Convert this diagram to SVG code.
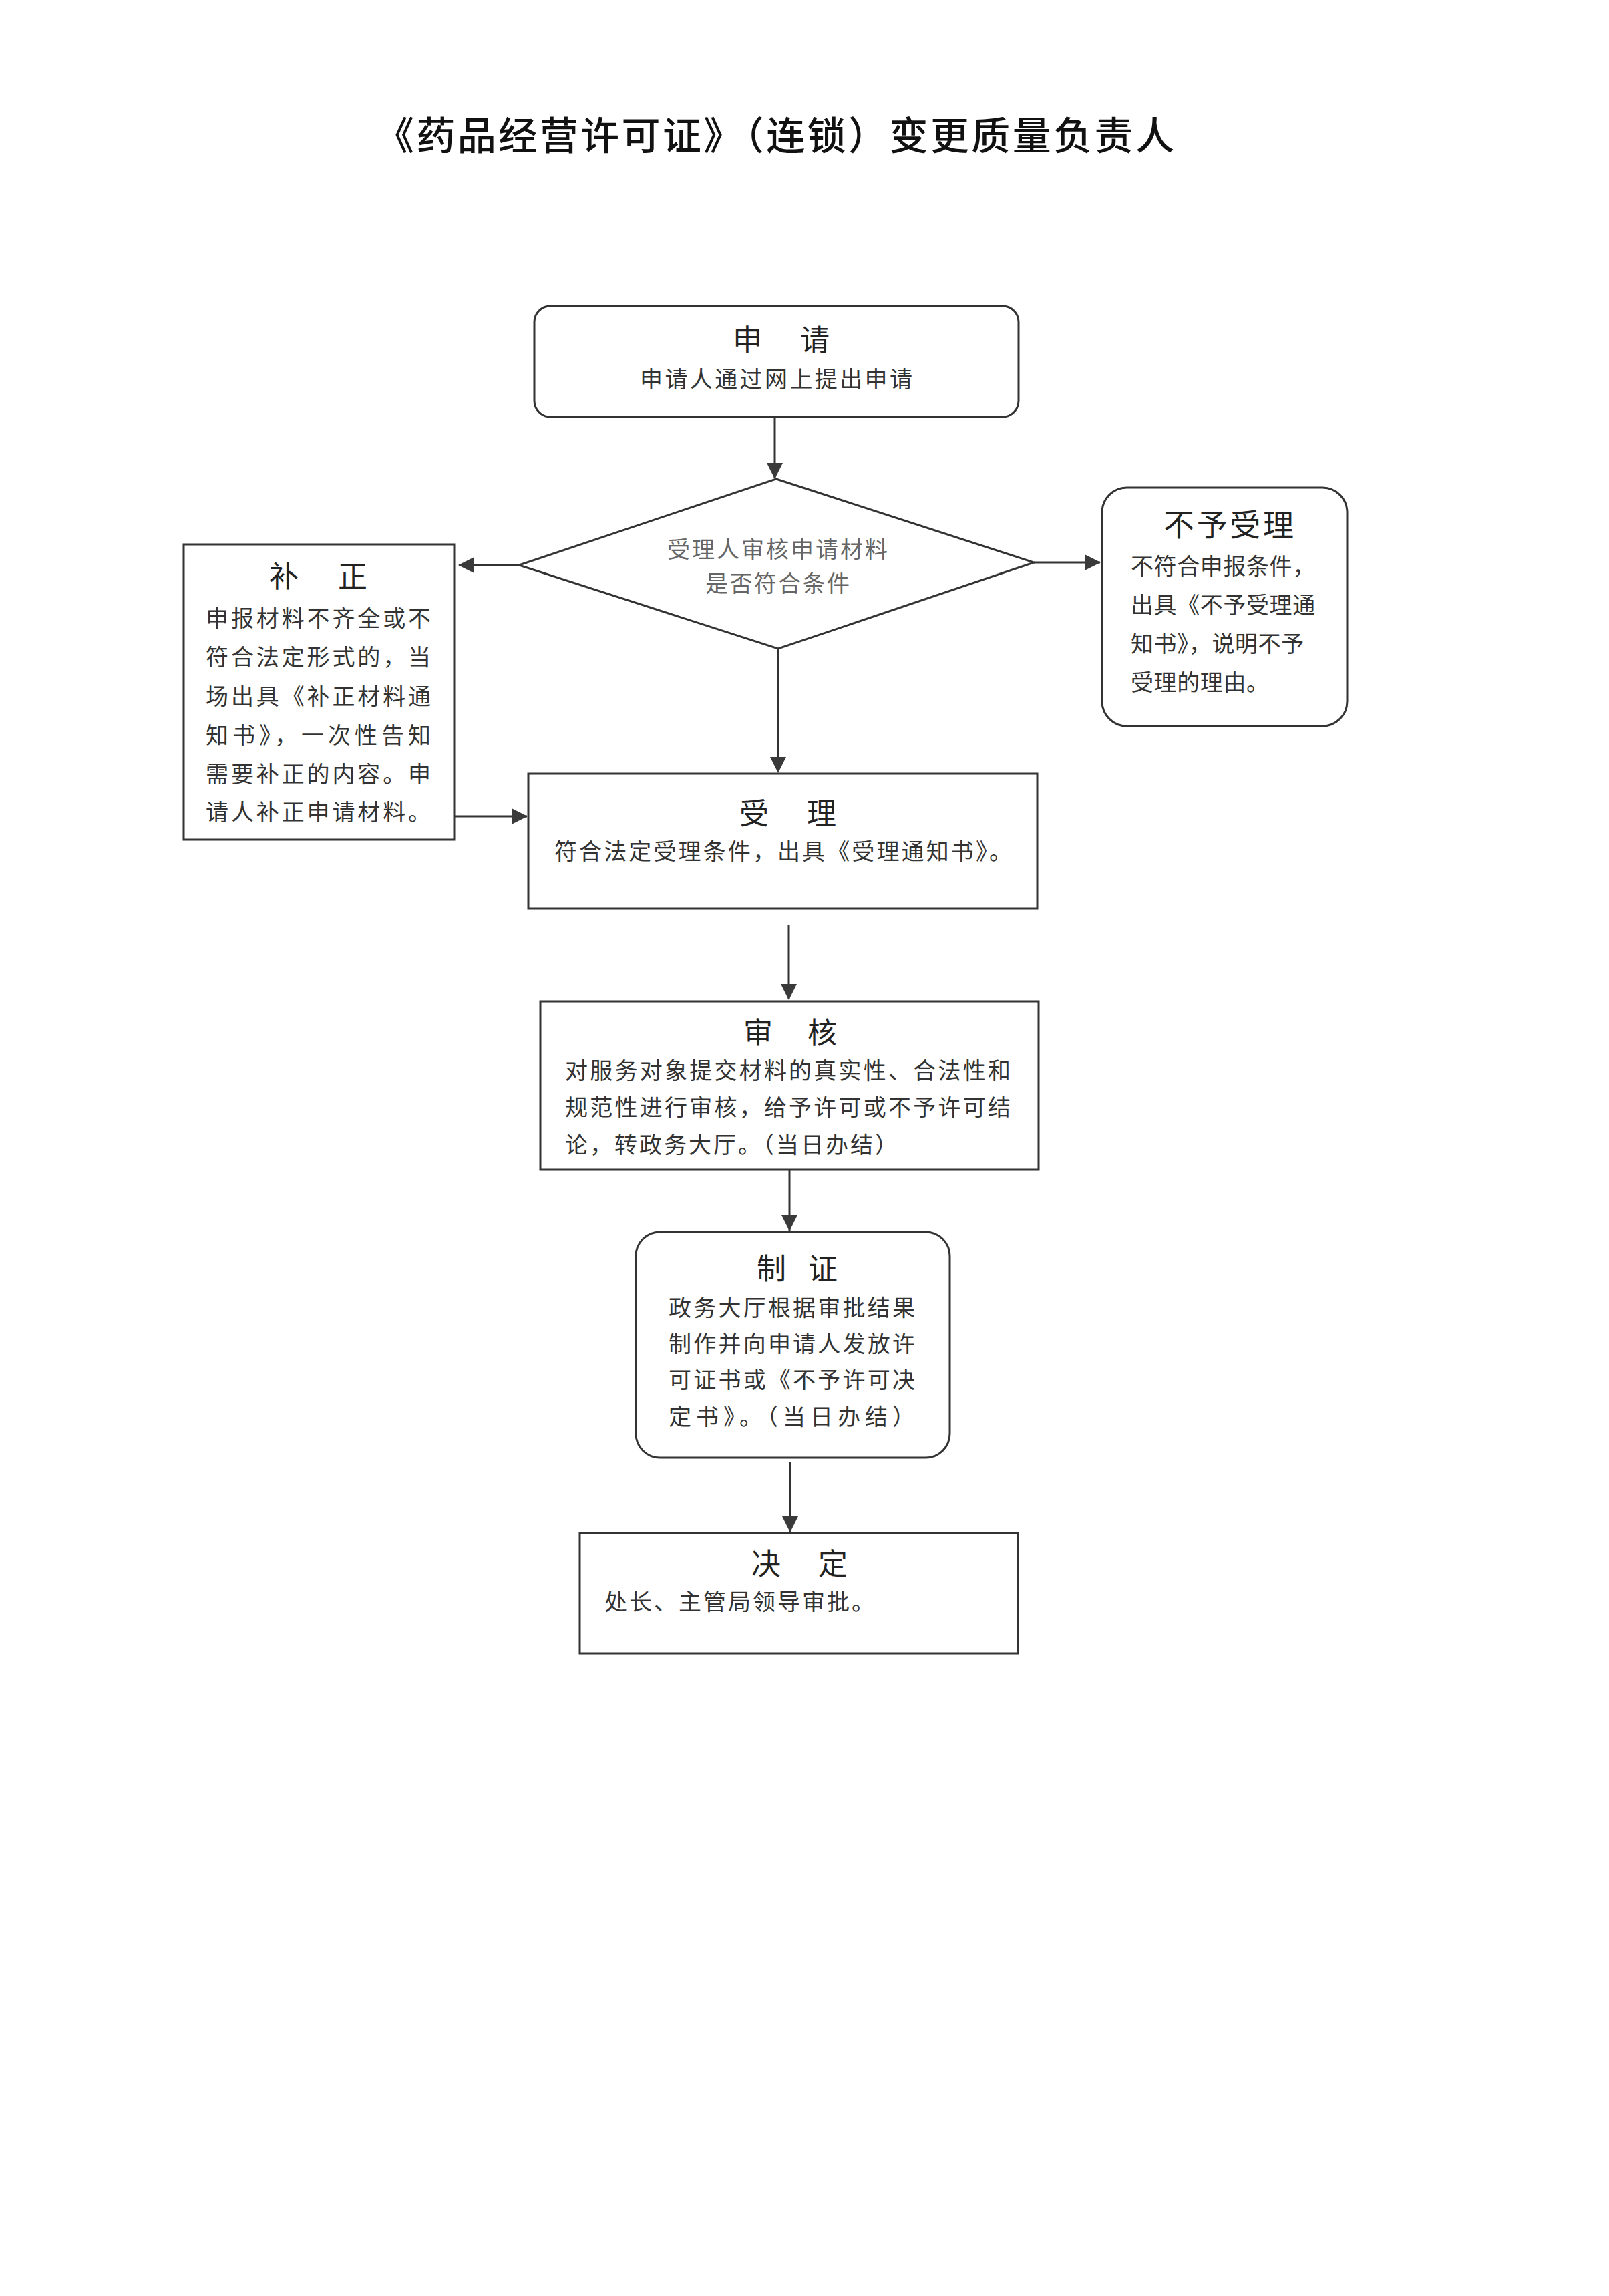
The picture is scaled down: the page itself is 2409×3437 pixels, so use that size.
<svg xmlns="http://www.w3.org/2000/svg" width="2409" height="3437" viewBox="0 0 2409 3437">
  <style>
    text { font-family: "Noto Sans CJK SC", "Noto Sans", sans-serif; }
    .doc-title { font-size: 58px; fill: #111; font-weight: 500; }
    .node-title { font-size: 44px; fill: #222; }
    .body { font-size: 34px; fill: #333; }
    .light { font-size: 34px; fill: #666; }
    .box { fill: #fff; stroke: #333; stroke-width: 3; }
    .conn { stroke: #333; stroke-width: 3; fill: none; }
  </style>
  <defs>
    <marker id="arrow" viewBox="0 0 24 24" refX="23" refY="12" markerWidth="24" markerHeight="24" markerUnits="userSpaceOnUse" orient="auto">
      <path d="M0,0 L24,12 L0,24 Z" fill="#3a3a3a"/>
    </marker>
  </defs>
  <rect x="0" y="0" width="2409" height="3437" fill="#fff"/>

  <text class="doc-title" x="562" y="224" textLength="1196" lengthAdjust="spacing">《药品经营许可证》（连锁）变更质量负责人</text>

  <g id="connectors">
    <line class="conn" x1="1160" y1="625" x2="1160" y2="716" marker-end="url(#arrow)"/>
    <line class="conn" x1="777" y1="846" x2="687" y2="846" marker-end="url(#arrow)"/>
    <line class="conn" x1="1548" y1="842" x2="1647" y2="842" marker-end="url(#arrow)"/>
    <line class="conn" x1="1165" y1="971" x2="1165" y2="1156" marker-end="url(#arrow)"/>
    <line class="conn" x1="681" y1="1222" x2="789" y2="1222" marker-end="url(#arrow)"/>
    <line class="conn" x1="1181" y1="1385" x2="1181" y2="1496" marker-end="url(#arrow)"/>
    <line class="conn" x1="1182" y1="1752" x2="1182" y2="1842" marker-end="url(#arrow)"/>
    <line class="conn" x1="1183" y1="2189" x2="1183" y2="2293" marker-end="url(#arrow)"/>
  </g>

  <g id="node-apply">
    <rect class="box" x="800" y="458" width="725" height="166" rx="24" ry="24"/>
    <text class="node-title" y="525"><tspan x="1097">申</tspan> <tspan x="1198">请</tspan></text>
    <text class="body" x="958" y="580" textLength="408" lengthAdjust="spacing">申请人通过网上提出申请</text>
  </g>

  <g id="node-check">
    <polygon class="box" points="1162,717 1548,842 1165,971 777,846"/>
    <text class="light" x="999" y="835" textLength="330" lengthAdjust="spacing">受理人审核申请材料</text>
    <text class="light" x="1056" y="886" textLength="216" lengthAdjust="spacing">是否符合条件</text>
  </g>

  <g id="node-correct">
    <rect class="box" x="275" y="815" width="405" height="442"/>
    <text class="node-title" y="879"><tspan x="403">补</tspan> <tspan x="506">正</tspan></text>
    <text class="body" x="308" y="938" textLength="337" lengthAdjust="spacing">申报材料不齐全或不</text>
    <text class="body" x="308" y="996" textLength="337" lengthAdjust="spacing">符合法定形式的，当</text>
    <text class="body" x="308" y="1055" textLength="337" lengthAdjust="spacing">场出具《补正材料通</text>
    <text class="body" x="308" y="1113" textLength="337" lengthAdjust="spacing">知书》，一次性告知</text>
    <text class="body" x="308" y="1171" textLength="337" lengthAdjust="spacing">需要补正的内容。申</text>
    <text class="body" x="308" y="1228" textLength="337" lengthAdjust="spacing">请人补正申请材料。</text>
  </g>

  <g id="node-reject">
    <rect class="box" x="1650" y="730" width="367" height="357" rx="37" ry="37"/>
    <text class="node-title" x="1742" y="802" style="font-size:46px" textLength="195" lengthAdjust="spacing">不予受理</text>
    <text class="body" x="1693" y="860" style="letter-spacing:0.6px">不符合申报条件，</text>
    <text class="body" x="1693" y="918" style="letter-spacing:0.6px">出具《不予受理通</text>
    <text class="body" x="1693" y="976" style="letter-spacing:0.6px">知书》，说明不予</text>
    <text class="body" x="1693" y="1034" style="letter-spacing:0.6px">受理的理由。</text>
  </g>

  <g id="node-accept">
    <rect class="box" x="791" y="1158" width="762" height="202"/>
    <text class="node-title" y="1234"><tspan x="1107">受</tspan> <tspan x="1208">理</tspan></text>
    <text class="body" x="830" y="1287" textLength="685" lengthAdjust="spacing">符合法定受理条件，出具《受理通知书》。</text>
  </g>

  <g id="node-review">
    <rect class="box" x="809" y="1499" width="746" height="252"/>
    <text class="node-title" y="1562"><tspan x="1113">审</tspan> <tspan x="1209">核</tspan></text>
    <text class="body" x="846" y="1615" textLength="667" lengthAdjust="spacing">对服务对象提交材料的真实性、合法性和</text>
    <text class="body" x="846" y="1670" textLength="667" lengthAdjust="spacing">规范性进行审核，给予许可或不予许可结</text>
    <text class="body" x="846" y="1726" style="letter-spacing:3px">论，转政务大厅。（当日办结）</text>
  </g>

  <g id="node-certificate">
    <rect class="box" x="952" y="1844" width="470" height="338" rx="36" ry="36"/>
    <text class="node-title" y="1915"><tspan x="1133">制</tspan> <tspan x="1210">证</tspan></text>
    <text class="body" x="1001" y="1970" textLength="369" lengthAdjust="spacing">政务大厅根据审批结果</text>
    <text class="body" x="1001" y="2024" textLength="369" lengthAdjust="spacing">制作并向申请人发放许</text>
    <text class="body" x="1001" y="2078" textLength="369" lengthAdjust="spacing">可证书或《不予许可决</text>
    <text class="body" x="1001" y="2133" textLength="369" lengthAdjust="spacing">定书》。（当日办结）</text>
  </g>

  <g id="node-decision">
    <rect class="box" x="868" y="2295" width="656" height="180"/>
    <text class="node-title" y="2357"><tspan x="1125">决</tspan> <tspan x="1225">定</tspan></text>
    <text class="body" x="905" y="2410" style="letter-spacing:3px">处长、主管局领导审批。</text>
  </g>
</svg>
